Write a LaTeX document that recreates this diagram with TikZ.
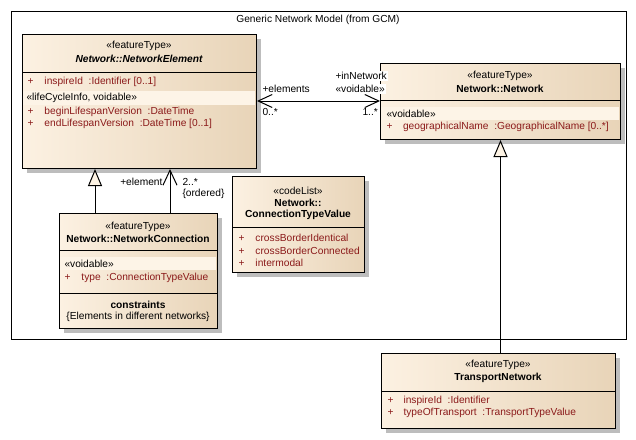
\documentclass[tikz,border=0pt]{standalone}
\usepackage{fontspec}
\setmainfont{Liberation Sans}
\usetikzlibrary{arrows.meta,shadows}
\definecolor{boxL}{HTML}{FCF1E2}
\definecolor{boxR}{HTML}{E8D4B8}
\definecolor{bandc}{HTML}{FDF4E7}
\definecolor{attrc}{HTML}{8B1A1A}
\definecolor{shad}{HTML}{BDBDBD}
\definecolor{trifill}{HTML}{FDF3E4}
\newcommand\fs{\fontsize{10.2}{12}\selectfont}
\begin{document}
\begin{tikzpicture}[x=1pt,y=-1pt,line width=1pt,
  umlbox/.style={draw=black,line width=1pt,left color=boxL,right color=boxR,
    anchor=north west,inner sep=0pt,
    drop shadow={shadow xshift=4pt,shadow yshift=-4pt,fill=shad,opacity=1}},
  lbl/.style={inner sep=0pt,font=\fs},
  bld/.style={inner sep=0pt,font=\fs\bfseries},
  attr/.style={inner sep=0pt,font=\fs,anchor=west,text=attrc},
  assoc/.style={{Straight Barb[length=14pt,width=13pt]}-{Straight Barb[length=14pt,width=13pt]}},
  navi/.style={-{Straight Barb[length=15pt,width=14pt]}},
  gen/.style={-{Triangle[length=17pt,width=14pt,fill=trifill]}},
  whitelbl/.style={inner sep=1pt,font=\fs,anchor=west,fill=white}]
\useasboundingbox[fill=white] (0,0) rectangle (636,439);
% frame
\node[draw,line width=1pt,minimum width=615pt,minimum height=328pt,anchor=north west,inner sep=0pt] (frame) at (11,11) {};
\node[lbl] (title) at (318,20) {Generic Network Model (from GCM)};

% NetworkElement
\node[umlbox,minimum width=234pt,minimum height=134pt] (ne) at (22,34) {};
\node[lbl] (ne-st) at (139,46) {«featureType»};
\node[lbl,font=\fs\bfseries\itshape] (ne-nm) at (139,59) {Network::NetworkElement};
\draw (22,72) -- (256,72);
\node[attr] (ne-a1) at (27,82) {\makebox[17pt][l]{+}inspireId~~:Identifier [0..1]};
\fill[bandc] (23,91) rectangle (255,105);
\node[lbl,anchor=west] (ne-b) at (26,98) {«lifeCycleInfo, voidable»};
\node[attr] (ne-a2) at (27,112) {\makebox[17pt][l]{+}beginLifespanVersion~~:DateTime};
\node[attr] (ne-a3) at (27,124) {\makebox[17pt][l]{+}endLifespanVersion~~:DateTime [0..1]};

% Network
\node[umlbox,minimum width=240pt,minimum height=76pt] (net) at (380,63) {};
\node[lbl] (net-st) at (500,76) {«featureType»};
\node[bld] (net-nm) at (500,89) {Network::Network};
\draw (380,100) -- (620,100);
\fill[bandc] (381,107) rectangle (619,120);
\node[lbl,anchor=west] (net-b) at (386,114) {«voidable»};
\node[attr] (net-a1) at (386,127) {\makebox[16.5pt][l]{+}geographicalName~~:GeographicalName [0..*]};

% NetworkConnection
\node[umlbox,minimum width=158pt,minimum height=115pt] (nc) at (59,213) {};
\node[lbl] (nc-st) at (138,227) {«featureType»};
\node[bld] (nc-nm) at (138,239) {Network::NetworkConnection};
\draw (59,250) -- (217,250);
\fill[bandc] (60,257) rectangle (216,270);
\node[lbl,anchor=west] (nc-b) at (64,264) {«voidable»};
\node[attr] (nc-a1) at (64,278) {\makebox[17pt][l]{+}type~~:ConnectionTypeValue};
\draw (59,293) -- (217,293);
\node[bld] (nc-c) at (138,305) {constraints};
\node[lbl] (nc-c1) at (138,317) {\{Elements in different networks\}};

% ConnectionTypeValue
\node[umlbox,minimum width=132pt,minimum height=96pt] (ctv) at (232,176) {};
\node[lbl] (ctv-st) at (298,191) {«codeList»};
\node[bld] (ctv-nm1) at (298,203) {Network::};
\node[bld] (ctv-nm2) at (298,215) {ConnectionTypeValue};
\draw (232,227) -- (364,227);
\node[attr] (ctv-a1) at (238,238) {\makebox[17pt][l]{+}crossBorderIdentical};
\node[attr] (ctv-a2) at (238,251) {\makebox[17pt][l]{+}crossBorderConnected};
\node[attr] (ctv-a3) at (238,263) {\makebox[17pt][l]{+}intermodal};

% TransportNetwork
\node[umlbox,minimum width=234pt,minimum height=75pt] (tn) at (381,353) {};
\node[lbl] (tn-st) at (498,365) {«featureType»};
\node[bld] (tn-nm) at (498,378) {TransportNetwork};
\draw (381,391) -- (615,391);
\node[attr] (tn-a1) at (387,401) {\makebox[16pt][l]{+}inspireId~~:Identifier};
\node[attr] (tn-a2) at (387,413) {\makebox[16pt][l]{+}typeOfTransport~~:TransportTypeValue};

% connectors
\draw[assoc] ([yshift=-67pt]ne.north east) -- ([yshift=-38pt]net.north west);
\coordinate (g1) at ([xshift=36pt]nc.north west);
\coordinate (g2) at ([xshift=111pt]nc.north west);
\draw[gen] (g1) -- (g1 |- ne.south);
\draw[navi] (g2) -- (g2 |- ne.south);
\draw[gen] (net.south |- tn.north) -- (net.south);

% connector labels
\node[lbl,anchor=west] (l-elements) at (262,89) {+elements};
\node[lbl,anchor=west] (l-m1) at (262,112) {0..*};
\node[whitelbl] (l-innet) at (334,76) {+inNetwork};
\node[whitelbl] (l-void) at (334,89) {«voidable»};
\node[lbl,anchor=west] (l-m2) at (362,112) {1..*};
\node[lbl,anchor=east] (l-element) at (163,182) {+element};
\node[lbl,anchor=west] (l-m3) at (182,182) {2..*};
\node[lbl,anchor=west] (l-ord) at (182,194) {\{ordered\}};
\end{tikzpicture}
\end{document}
